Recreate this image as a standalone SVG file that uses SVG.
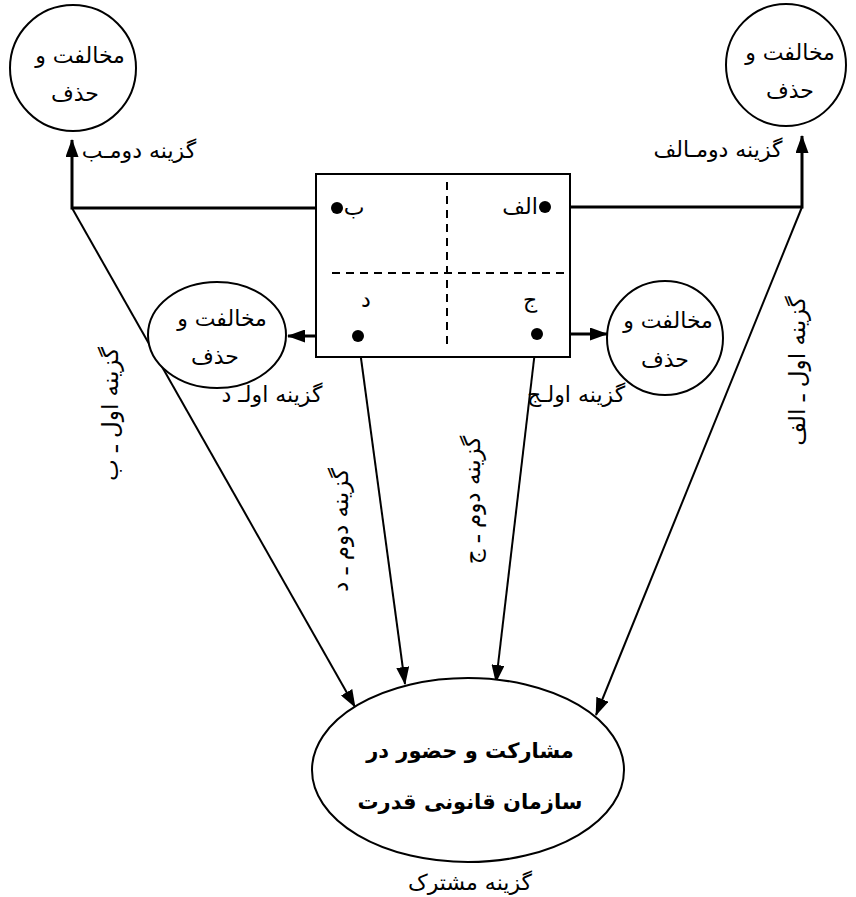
<svg xmlns="http://www.w3.org/2000/svg" width="856" height="897" viewBox="0 0 856 897">
<defs>
<marker id="arr" viewBox="0 0 18 13" refX="17" refY="6.5" markerWidth="18" markerHeight="13" markerUnits="userSpaceOnUse" orient="auto">
<path d="M0,0 L18,6.5 L0,13 Z" fill="#000"/>
</marker>
<style>
.node{fill:#fff;stroke:#000;stroke-width:2}
.t{font-family:'DejaVu Sans',sans-serif;font-size:22px;fill:#000;text-anchor:middle}
.lab{font-family:'DejaVu Sans',sans-serif;font-size:22px;fill:#000;text-anchor:middle}
.rot{font-family:'DejaVu Sans',sans-serif;font-size:23px;fill:#000;text-anchor:middle}
.b{font-family:'DejaVu Sans',sans-serif;font-size:21px;font-weight:bold;fill:#000;text-anchor:middle}
.ln{fill:none;stroke:#000;stroke-width:2}
.th{fill:none;stroke:#000;stroke-width:3}
.dash{fill:none;stroke:#000;stroke-width:2;stroke-dasharray:8,6}
.dot{fill:#000}
</style>
</defs>
<rect width="856" height="897" fill="#fff"/>

<g id="connectors">
<path class="th" d="M337,208 L72,208 L72,140" marker-end="url(#arr)"/>
<path class="th" d="M545,207 L802,207 L802,136" marker-end="url(#arr)"/>
<path class="th" d="M358,336 L288,336" marker-end="url(#arr)"/>
<path class="th" d="M537,334 L607,334" marker-end="url(#arr)"/>
<path class="ln" d="M72,208 L355,707" marker-end="url(#arr)"/>
<path class="ln" d="M802,207 L596,715" marker-end="url(#arr)"/>
<path class="ln" d="M358,336 L405,684" marker-end="url(#arr)"/>
<path class="ln" d="M537,334 L496,682" marker-end="url(#arr)"/>
</g>

<g id="matrix">
<rect class="node" x="316" y="174" width="254" height="183" fill="none"/>
<line class="dash" x1="447" y1="182" x2="447" y2="345"/>
<line class="dash" x1="332" y1="273" x2="565" y2="273"/>
<text class="lab" x="354" y="215">ب</text>
<text class="lab" x="520" y="214">الف</text>
<text class="lab" x="366" y="307">د</text>
<text class="lab" x="530" y="307">ج</text>
<circle class="dot" cx="337" cy="208" r="6"/>
<circle class="dot" cx="545" cy="207" r="6"/>
<circle class="dot" cx="358" cy="336" r="6"/>
<circle class="dot" cx="537" cy="334" r="6"/>
</g>

<g id="node-tl">
<ellipse class="node" cx="73" cy="68" rx="63" ry="63"/>
<text class="t" x="80" y="63">مخالفت و</text>
<text class="t" x="75" y="101">حذف</text>
</g>

<g id="node-tr">
<ellipse class="node" cx="786" cy="65" rx="60" ry="61"/>
<text class="t" x="790" y="60">مخالفت و</text>
<text class="t" x="790" y="98">حذف</text>
</g>

<g id="node-d">
<ellipse class="node" cx="217" cy="335" rx="69" ry="53"/>
<text class="t" x="222" y="326">مخالفت و</text>
<text class="t" x="215" y="364">حذف</text>
</g>

<g id="node-j">
<ellipse class="node" cx="665" cy="338" rx="58" ry="57"/>
<text class="t" x="668" y="328">مخالفت و</text>
<text class="t" x="665" y="367">حذف</text>
</g>

<g id="node-common">
<ellipse class="node" cx="468" cy="770" rx="156" ry="92"/>
<text class="b" x="470" y="758">مشارکت و حضور در</text>
<text class="b" x="470" y="809">سازمان قانونی قدرت</text>
</g>

<g id="labels">
<text class="lab" x="139" y="158">گزینه دومـب</text>
<text class="lab" x="718" y="157">گزینه دومـالف</text>
<text class="lab" x="272" y="402">گزینه اولـ د</text>
<text class="lab" x="576" y="402">گزینه اولـج</text>
<text class="lab" x="470" y="890">گزینه مشترک</text>
<text class="rot" transform="translate(110,414) rotate(-90)" x="0" y="8">گزینه اول ـ ب</text>
<text class="rot" transform="translate(797,371) rotate(-90)" x="0" y="8">گزینه اول ـ الف</text>
<text class="rot" transform="translate(340,530) rotate(-90)" x="0" y="8">گزینه دوم ـ د</text>
<text class="rot" transform="translate(472,500) rotate(-90)" x="0" y="8">گزینه دوم ـ ج</text>
</g>
</svg>
